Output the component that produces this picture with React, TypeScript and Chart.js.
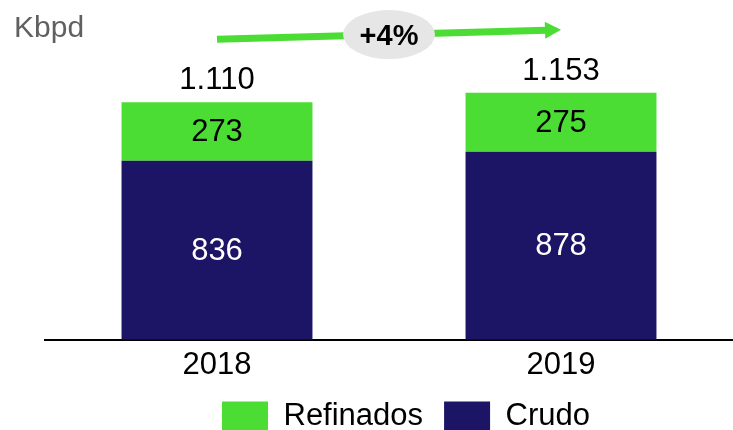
import React, { useEffect, useRef } from "react";
import { Chart, registerables } from "chart.js";

Chart.register(...registerables);

const categories = ["2018", "2019"];
const crudo = [836, 878];
const refinados = [273, 275];
const totalLabels = ["1.110", "1.153"];
const growthLabel = "+4%";
const unitLabel = "Kbpd";

const GREEN = "#4bdd34";
const NAVY = "#1c1464";
const FONT = "'Liberation Sans', Arial, sans-serif";

export default function App() {
  const ref = useRef<HTMLCanvasElement>(null);

  useEffect(() => {
    if (!ref.current) return;
    const overlay = {
      id: "overlay",
      afterLayout(chart: any) {
        if (chart.legend) {
          chart.legend.left += 34;
          chart.legend.top -= 11;
          chart.legend.bottom -= 11;
        }
      },
      afterDatasetsDraw(chart: any) {
        const ctx = chart.ctx as CanvasRenderingContext2D;
        const xs = chart.scales.x;
        const ys = chart.scales.y;
        ctx.save();
        // segment labels
        ctx.font = `31px ${FONT}`;
        ctx.textAlign = "center";
        ctx.textBaseline = "middle";
        chart.data.datasets.forEach((ds: any, di: number) => {
          const meta = chart.getDatasetMeta(di);
          meta.data.forEach((bar: any, i: number) => {
            const p = bar.getProps(["x", "y", "base"], true);
            ctx.fillStyle = di === 0 ? "#ffffff" : "#000000";
            ctx.fillText(String(ds.data[i]), p.x, (p.y + p.base) / 2 + 1);
          });
        });
        // totals
        ctx.textBaseline = "alphabetic";
        ctx.fillStyle = "#000000";
        const pts: { x: number; y: number }[] = [];
        categories.forEach((_, i) => {
          const total = crudo[i] + refinados[i];
          const px = xs.getPixelForValue(i);
          const py = ys.getPixelForValue(total);
          ctx.fillText(totalLabels[i], px, py - 13);
          pts.push({ x: px, y: py - 63 });
        });
        // growth arrow
        const [a, b] = pts;
        const ang = Math.atan2(b.y - a.y, b.x - a.x);
        const headLen = 16;
        const headHalf = 8.5;
        const sx = b.x - headLen * Math.cos(ang);
        const sy = b.y - headLen * Math.sin(ang);
        ctx.strokeStyle = GREEN;
        ctx.fillStyle = GREEN;
        ctx.lineWidth = 7;
        ctx.beginPath();
        ctx.moveTo(a.x, a.y);
        ctx.lineTo(sx + Math.cos(ang), sy + Math.sin(ang));
        ctx.stroke();
        ctx.beginPath();
        ctx.moveTo(b.x, b.y);
        ctx.lineTo(sx - headHalf * Math.sin(ang), sy + headHalf * Math.cos(ang));
        ctx.lineTo(sx + headHalf * Math.sin(ang), sy - headHalf * Math.cos(ang));
        ctx.closePath();
        ctx.fill();
        // ellipse badge
        const mx = (a.x + b.x) / 2;
        const my = (a.y + b.y) / 2;
        ctx.fillStyle = "#e6e6e6";
        ctx.beginPath();
        ctx.ellipse(mx, my, 46, 24.5, 0, 0, Math.PI * 2);
        ctx.fill();
        ctx.fillStyle = "#000000";
        ctx.font = `bold 29px ${FONT}`;
        ctx.textAlign = "center";
        ctx.textBaseline = "middle";
        ctx.fillText(growthLabel, mx, my + 2);
        // unit label
        ctx.font = `30px ${FONT}`;
        ctx.fillStyle = "#606060";
        ctx.textAlign = "left";
        ctx.textBaseline = "alphabetic";
        ctx.fillText(unitLabel, 14, 37);
        ctx.restore();
      },
    };

    const chart = new Chart(ref.current, {
      type: "bar",
      data: {
        labels: categories,
        datasets: [
          {
            label: "Crudo",
            data: crudo,
            backgroundColor: NAVY,
            borderWidth: 0,
            barPercentage: 0.555,
            categoryPercentage: 1,
          },
          {
            label: "Refinados",
            data: refinados,
            backgroundColor: GREEN,
            borderWidth: 0,
            barPercentage: 0.555,
            categoryPercentage: 1,
          },
        ],
      },
      options: {
        responsive: false,
        animation: false,
        devicePixelRatio: 1,
        layout: { padding: { left: 45, right: 0, top: 18.5, bottom: -23 } },
        plugins: {
          legend: {
            position: "bottom",
            reverse: true,
            labels: {
              boxWidth: 46,
              boxHeight: 30,
              padding: 21,
              color: "#000000",
              font: { family: FONT, size: 31 },
            },
          },
          tooltip: { enabled: false },
          title: { display: false },
        },
        scales: {
          x: {
            stacked: true,
            grid: { display: false, drawTicks: false },
            border: { display: true, color: "#000000", width: 2 },
            ticks: {
              color: "#000000",
              font: { family: FONT, size: 31 },
              padding: 7,
            },
          },
          y: {
            stacked: true,
            display: false,
            min: 0,
            max: 1500,
          },
        },
      },
      plugins: [overlay],
    });
    return () => chart.destroy();
  }, []);

  return (
    <div style={{ position: "fixed", left: 0, top: 0, width: 733, height: 430, background: "#ffffff" }}>
      <canvas ref={ref} width={733} height={430} style={{ width: 733, height: 430, display: "block" }} />
    </div>
  );
}
